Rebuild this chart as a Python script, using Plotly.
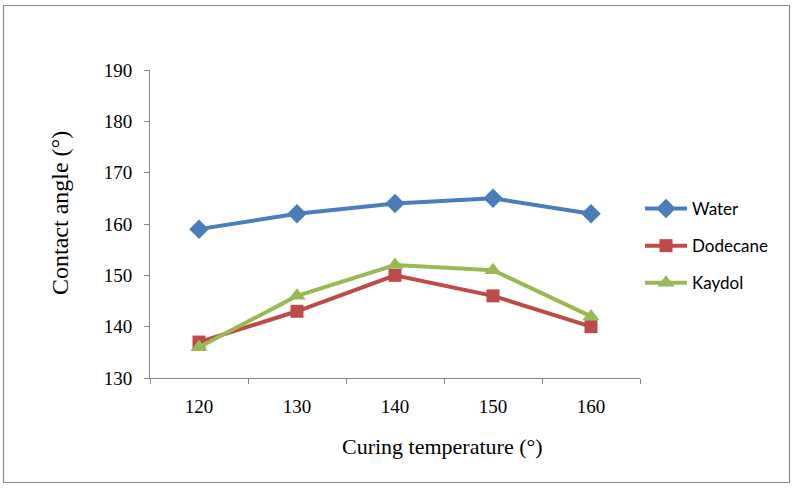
import plotly.graph_objects as go

categories = ["120", "130", "140", "150", "160"]
water = [159, 162, 164, 165, 162]
dodecane = [137, 143, 150, 146, 140]
kaydol = [136, 146, 152, 151, 142]

series = [
    ("Water", water, "#4A7EBB", "diamond", 15),
    ("Dodecane", dodecane, "#BE4B48", "square", 13),
    ("Kaydol", kaydol, "#98B954", "triangle-up", 15),
]

fig = go.Figure()
for i, (name, vals, color, sym, sz) in enumerate(series):
    fig.add_trace(go.Scatter(
        x=categories, y=vals, name=name, mode="lines+markers",
        line=dict(color=color, width=4),
        marker=dict(symbol=sym, size=sz, color=color),
        legendgroup=name,
    ))

L, R, T, B = 150, 160, 70, 112
W, H = 800, 490
pw, ph = W - L - R, H - T - B

def px2x(px):
    return (px - L) / pw

def py2y(py):
    return (H - B - py) / ph

fig.update_layout(
    width=W, height=H,
    margin=dict(l=L, r=R, t=T, b=B),
    paper_bgcolor="white", plot_bgcolor="white",
    font=dict(family="Liberation Serif", size=19, color="#000"),
    showlegend=True,
    legend=dict(
        x=px2x(640), y=py2y(191), xanchor="left", yanchor="top",
        font=dict(family="Lato", size=17, color="#000"),
        traceorder="grouped", tracegroupgap=12, itemwidth=42,
        bgcolor="rgba(0,0,0,0)",
    ),
    xaxis=dict(
        type="category", range=[-0.5, 4.5],
        showline=True, linecolor="#868686", linewidth=1,
        ticks="outside", tickson="boundaries", ticklen=5, tickcolor="#868686",
        showgrid=False, zeroline=False, ticklabelstandoff=11,
        tickfont=dict(family="Liberation Serif", size=19),
    ),
    yaxis=dict(
        range=[130, 190], dtick=10,
        showline=True, linecolor="#868686", linewidth=1,
        ticks="outside", ticklen=5, tickcolor="#868686",
        showgrid=False, zeroline=False, ticklabelstandoff=8,
        tickfont=dict(family="Liberation Serif", size=19),
    ),
    shapes=[dict(
        type="rect", xref="paper", yref="paper",
        x0=px2x(3.5), x1=px2x(789.5), y0=py2y(482.5), y1=py2y(5.5),
        line=dict(color="#8C8C8C", width=1.2), fillcolor="rgba(0,0,0,0)",
        layer="below",
    )],
    annotations=[
        dict(text="Curing temperature (°)", xref="paper", yref="paper",
             x=px2x(442), y=py2y(446), xanchor="center", yanchor="middle",
             showarrow=False, font=dict(family="Liberation Serif", size=22)),
        dict(text="Contact angle (°)", xref="paper", yref="paper",
             x=px2x(60), y=py2y(213), xanchor="center", yanchor="middle",
             textangle=-90, showarrow=False,
             font=dict(family="Liberation Serif", size=24)),
    ],
)

fig.write_html("out.html")
